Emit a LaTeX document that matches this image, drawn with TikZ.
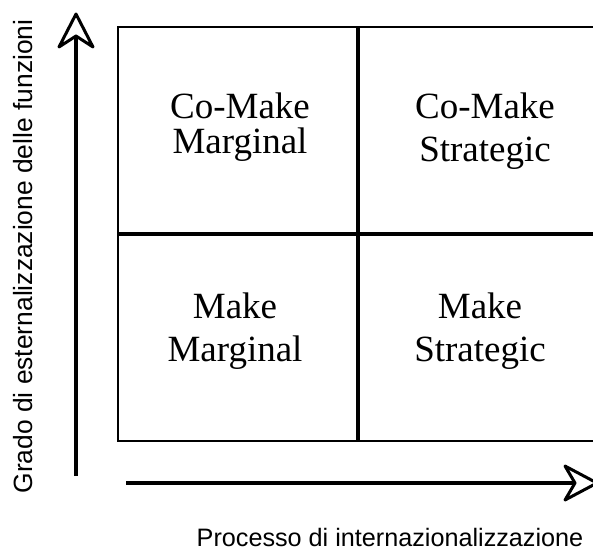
\documentclass[tikz,border=0pt]{standalone}
\usepackage{fontspec}
\setmainfont{Liberation Serif}
\newfontfamily\arialfont{Liberation Sans}
\tikzset{
  thinrule/.style={line width=2.2pt, line cap=rect},
  midrule/.style={line width=4.5pt},
  axisline/.style={line width=4.5pt},
  axishead/.style={line width=3pt, line join=round, draw=black, fill=white},
  celltext/.style={align=center, inner sep=0pt, anchor=north},
  axislabel/.style={inner sep=0pt, anchor=base},
}
\begin{document}
\begin{tikzpicture}[x=1pt, y=-1pt]
\useasboundingbox (0,0) rectangle (593,550);
\clip (0,0) rectangle (593,550);
% grid corners
\coordinate (tl) at (118,27);
\coordinate (br) at (614,441);
\coordinate (mt) at (358,27);
\coordinate (mb) at (358,441);
\coordinate (ml) at (118,234);
\coordinate (mr) at (614,234);
% outer frame
\draw[thinrule] (tl) rectangle (br);
% middle lines
\draw[midrule] (mt) -- (mb);
\draw[midrule] (ml) -- (mr);
% cell texts
\node[celltext, font={\fontsize{37}{35}\selectfont}] (cmm) at (240,92.5) {Co-Make\\Marginal};
\node[celltext, font={\fontsize{37}{43}\selectfont}] (cms) at (485,92.5) {Co-Make\\Strategic};
\node[celltext, font={\fontsize{37}{43}\selectfont}] (mm) at (235,292.5) {Make\\Marginal};
\node[celltext, font={\fontsize{37}{43}\selectfont}] (ms) at (480,292.5) {Make\\Strategic};
% vertical axis
\coordinate (vstart) at (76,476);
\coordinate (vnotch) at (76,36);
\coordinate (vtip) at (76,14);
\draw[axisline] (vstart) -- ([yshift=2pt]vnotch);
\draw[axishead] (vtip) -- ++(-17,33) -- (vnotch) -- ++(17,11) -- cycle;
% horizontal axis
\coordinate (hstart) at (126,483);
\coordinate (hnotch) at (575,483);
\coordinate (htip) at (597,483);
\draw[axisline] (hstart) -- ([xshift=-2pt]hnotch);
\draw[axishead] (htip) -- ++(-32,-17) -- (hnotch) -- ++(-10,17) -- cycle;
% axis labels
\node[axislabel, rotate=90, font={\arialfont\fontsize{26.4}{30}\selectfont}] (ylab) at (32,256.5) {Grado di esternalizzazione delle funzioni};
\node[axislabel, font={\arialfont\fontsize{25.2}{28}\selectfont}] (xlab) at (390,546) {Processo di internazionalizzazione};
\end{tikzpicture}
\end{document}
